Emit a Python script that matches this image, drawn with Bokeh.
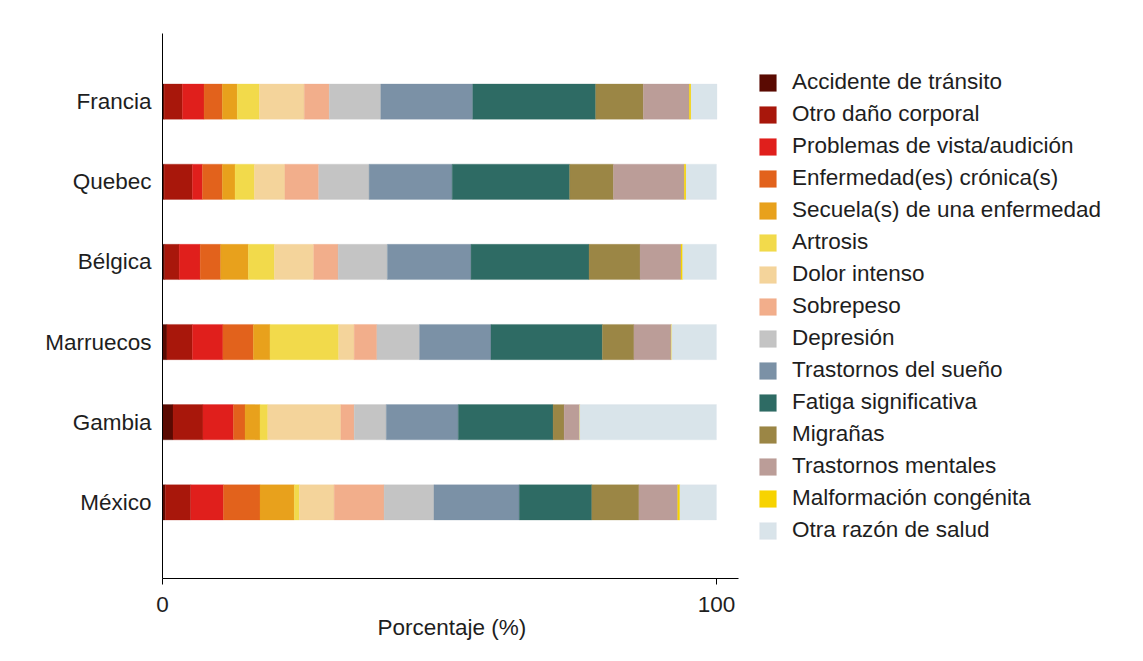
from bokeh.plotting import figure
from bokeh.models import ColumnDataSource, Range1d, FixedTicker, Legend, Title
from bokeh.embed import file_html
from bokeh.resources import INLINE

countries = ["Francia", "Quebec", "Bélgica", "Marruecos", "Gambia", "México"]
y_pos = [5, 4, 3, 2, 1, 0]

categories = [
    "Accidente de tránsito", "Otro daño corporal", "Problemas de vista/audición",
    "Enfermedad(es) crónica(s)", "Secuela(s) de una enfermedad", "Artrosis",
    "Dolor intenso", "Sobrepeso", "Depresión", "Trastornos del sueño",
    "Fatiga significativa", "Migrañas", "Trastornos mentales",
    "Malformación congénita", "Otra razón de salud",
]
colors = [
    "#5a0a02", "#a8170b", "#e01f1c", "#e2621c", "#e8a11c", "#f2da4b",
    "#f4d49b", "#f2ae8b", "#c4c4c4", "#7b91a6", "#2e6b64", "#9b8645",
    "#bb9d98", "#f7d300", "#d9e4ea",
]

# values per category, in country order: Francia, Quebec, Bélgica, Marruecos, Gambia, México
accidente = [0.3, 0.3, 0.4, 0.8, 1.9, 0.5]
otro_dano = [3.3, 5.1, 2.6, 4.6, 5.4, 4.6]
vista = [3.9, 1.8, 3.8, 5.5, 5.5, 5.9]
cronica = [3.3, 3.6, 3.7, 5.5, 2.1, 6.6]
secuela = [2.7, 2.3, 5.0, 3.0, 2.7, 6.2]
artrosis = [4.0, 3.5, 4.7, 12.4, 1.4, 0.9]
dolor = [8.1, 5.5, 7.1, 2.8, 13.2, 6.3]
sobrepeso = [4.5, 6.1, 4.4, 4.1, 2.4, 9.0]
depresion = [9.3, 9.1, 8.9, 7.7, 5.8, 9.0]
sueno = [16.6, 15.0, 15.1, 12.9, 13.0, 15.4]
fatiga = [22.2, 21.2, 21.3, 20.1, 17.1, 13.1]
migranas = [8.6, 7.9, 9.2, 5.7, 2.0, 8.5]
mentales = [8.3, 12.8, 7.4, 6.7, 2.8, 7.0]
malformacion = [0.3, 0.3, 0.3, 0.1, 0.0, 0.4]
otra = [4.7, 5.5, 6.1, 8.1, 24.7, 6.6]

series = [accidente, otro_dano, vista, cronica, secuela, artrosis, dolor,
          sobrepeso, depresion, sueno, fatiga, migranas, mentales,
          malformacion, otra]

keys = ["c%d" % i for i in range(len(series))]
data = {"y": y_pos}
for k, s in zip(keys, series):
    data[k] = s
source = ColumnDataSource(data)

FONT = "Liberation Sans"
FS = "22.5px"
TXT = "#1e1e1e"

p = figure(width=1127, height=645, output_backend="svg", toolbar_location=None,
           x_range=Range1d(0, 174.2), y_range=Range1d(-0.95, 5.85),
           min_border_left=162, min_border_right=0, min_border_top=33,
           min_border_bottom=67)
p.outline_line_color = None
p.grid.visible = False
p.background_fill_color = "white"
p.border_fill_color = "white"

renderers = p.hbar_stack(keys, y="y", height=0.44, color=colors,
                         line_color=colors, line_width=0.3, source=source)

legend = Legend(items=[(name, [r]) for name, r in zip(categories, renderers)],
                location=(595, 35))
legend.glyph_width = 21
legend.glyph_height = 21
legend.label_height = 21
legend.spacing = 6
legend.label_standoff = 14
legend.padding = 0
legend.margin = 0
legend.border_line_color = None
legend.background_fill_alpha = 0
legend.label_text_font = FONT
legend.label_text_font_size = FS
legend.label_text_color = TXT
legend.label_text_baseline = "middle"
p.add_layout(legend, "center")

xa = p.xaxis[0]
xa.bounds = (0, 104)
xa.ticker = FixedTicker(ticks=[0, 100])
xa.minor_tick_line_color = None
xa.major_tick_out = 6
xa.major_tick_in = 0
xa.major_label_standoff = 12
xa.major_label_text_font = FONT
xa.major_label_text_font_size = FS
xa.major_label_text_color = TXT
xa.axis_line_color = "black"

xtitle = Title(text="Porcentaje (%)", align="left", offset=215,
               text_font=FONT, text_font_size=FS, text_font_style="normal",
               text_color=TXT, standoff=0, vertical_align="top")
p.add_layout(xtitle, "below")

ya = p.yaxis[0]
ya.ticker = FixedTicker(ticks=y_pos)
ya.major_label_overrides = {y: c for y, c in zip(y_pos, countries)}
ya.minor_tick_line_color = None
ya.major_tick_line_color = None
ya.major_tick_out = 0
ya.major_tick_in = 0
ya.major_label_standoff = 11
ya.major_label_text_font = FONT
ya.major_label_text_font_size = FS
ya.major_label_text_color = TXT
ya.axis_line_color = "black"

open("out.html", "w").write(file_html(p, INLINE))
